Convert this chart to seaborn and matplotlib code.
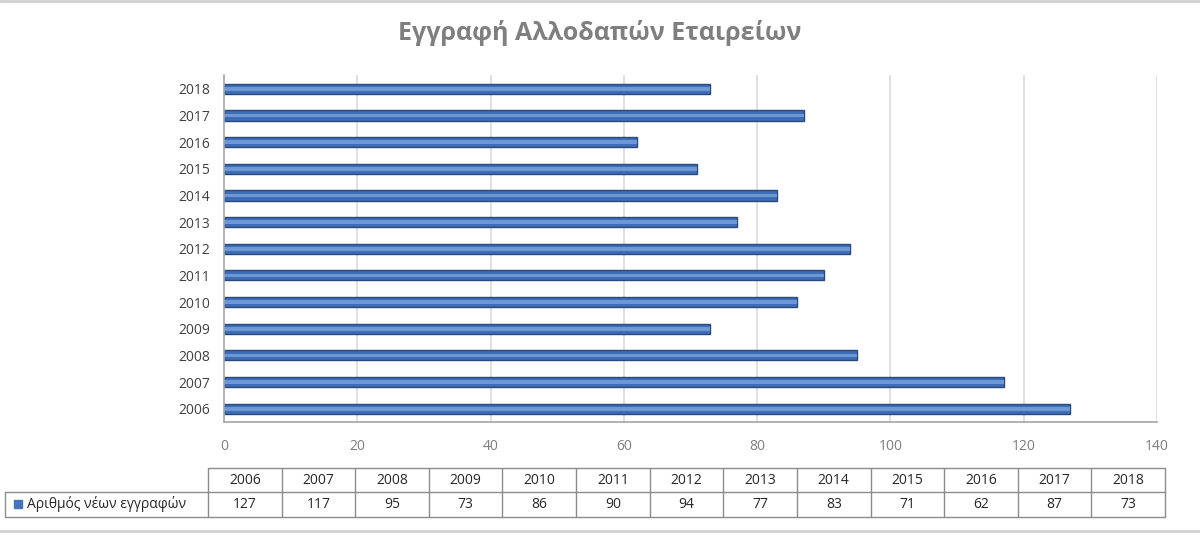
import matplotlib
matplotlib.use("Agg")
import matplotlib.pyplot as plt
import seaborn as sns
import pandas as pd
from matplotlib.lines import Line2D
from matplotlib.patches import Rectangle

# ---- data ----
years = ["2006", "2007", "2008", "2009", "2010", "2011", "2012",
         "2013", "2014", "2015", "2016", "2017", "2018"]
registrations = [127, 117, 95, 73, 86, 90, 94, 77, 83, 71, 62, 87, 73]
series_name = "Αριθμός νέων εγγραφών"
title = "Εγγραφή Αλλοδαπών Εταιρείων"
x_ticks = [0, 20, 40, 60, 80, 100, 120, 140]

sns.set_theme(style="white")
plt.rcParams["font.family"] = ["Open Sans", "Noto Sans", "DejaVu Sans"]

df = pd.DataFrame({"year": years, "value": registrations})
order = years[::-1]

W, H = 1200, 536
fig = plt.figure(figsize=(12, 5.36), dpi=100)
fig.patch.set_facecolor("white")

def fx(px):
    return px / W

def fy(py):
    return 1 - py / H

ax = fig.add_axes([fx(224), fy(422), fx(1157) - fx(224), fy(75) - fy(422)])

# main bar (dark edge)
sns.barplot(data=df, x="value", y="year", order=order, orient="h",
            color="#3E6DB5", width=0.38, edgecolor="#29497F", linewidth=1.0,
            saturation=1, ax=ax)
# highlight band for 3D look
sns.barplot(data=df, x="value", y="year", order=order, orient="h",
            color="#6C98D4", width=0.14, linewidth=0, saturation=1, ax=ax)

ax.set_xlim(0, 140)
ax.set_ylim(12.5, -0.52)
ax.set_xticks(x_ticks)
ax.set_xticklabels([str(t) for t in x_ticks])
ax.set_xlabel("")
ax.set_ylabel("")
for x in x_ticks[1:]:
    ax.axvline(x, color="#DADADA", lw=1.2, zorder=0)
for s in ["top", "right"]:
    ax.spines[s].set_visible(False)
ax.spines["left"].set_color("#A6A6A6")
ax.spines["bottom"].set_color("#A6A6A6")
ax.spines["left"].set_linewidth(1.2)
ax.spines["bottom"].set_linewidth(1.2)
ax.tick_params(axis="x", colors="#7F7F7F", labelsize=10, length=0, pad=12)
ax.tick_params(axis="y", colors="#404040", labelsize=10, length=0, pad=10)

fig.text(0.5, fy(33), title, ha="center", va="center", fontsize=18,
         fontweight="bold", color="#7F7F7F")

# ---- data table ----
tax = fig.add_axes([0, 0, 1, 1], zorder=-1)
tax.set_xlim(0, W)
tax.set_ylim(H, 0)
tax.axis("off")

left_lbl = 5
col0 = 208
col_end = 1165
ncol = len(years)
cw = (col_end - col0) / ncol
r0, r1, r2 = 468, 492, 517
lc = "#8C8C8C"
tax.add_line(Line2D([col0, col_end], [r0, r0], color=lc, lw=1))
tax.add_line(Line2D([left_lbl, col_end], [r1, r1], color=lc, lw=1))
tax.add_line(Line2D([left_lbl, col_end], [r2, r2], color=lc, lw=1))
tax.add_line(Line2D([left_lbl, left_lbl], [r1, r2], color=lc, lw=1))
for i in range(ncol + 1):
    xx = col0 + i * cw
    tax.add_line(Line2D([xx, xx], [r0, r2], color=lc, lw=1))
for i, (yr, v) in enumerate(zip(years, registrations)):
    cx = col0 + (i + 0.5) * cw
    tax.text(cx, (r0 + r1) / 2, yr, ha="center", va="center",
             fontsize=10, color="#262626")
    tax.text(cx, (r1 + r2) / 2, str(v), ha="center", va="center",
             fontsize=10, color="#262626")
tax.add_patch(Rectangle((14, 500), 8, 8, color="#4474BD"))
tax.text(27, (r1 + r2) / 2, series_name, ha="left", va="center",
         fontsize=10, color="#262626")

# outer frame lines
tax.add_line(Line2D([0, W], [1, 1], color="#D0D0D0", lw=2))
tax.add_line(Line2D([0, W], [531, 531], color="#D0D0D0", lw=2))

fig.savefig("out.png", dpi=100, facecolor="white")
